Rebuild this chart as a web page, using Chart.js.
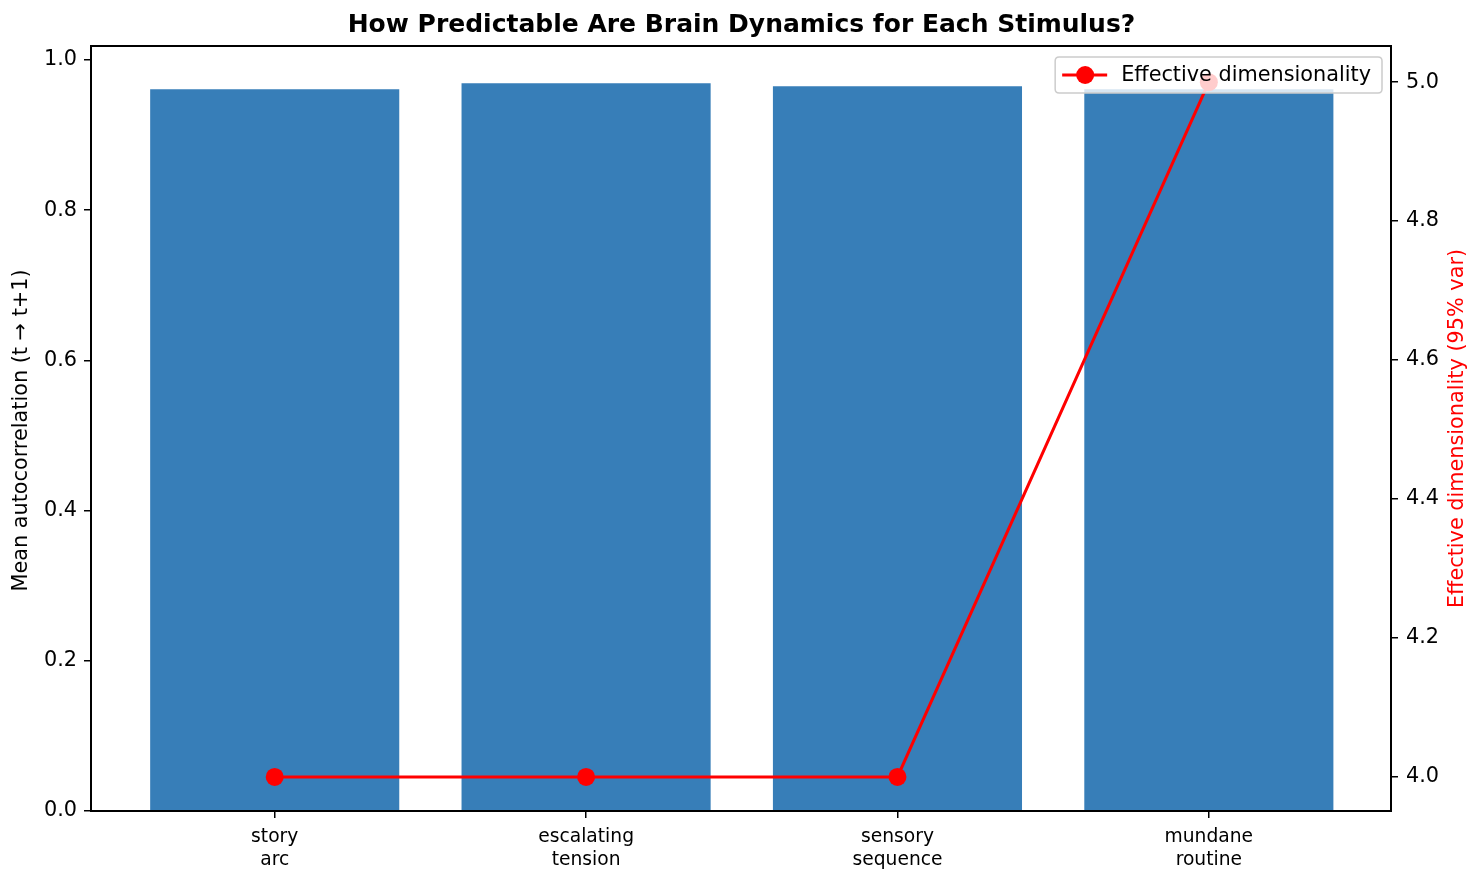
<!DOCTYPE html>
<html>
<head>
<meta charset="utf-8">
<script src="https://cdn.jsdelivr.net/npm/chart.js@4.4.1/dist/chart.umd.min.js"></script>
<style>
  html, body { margin: 0; padding: 0; background: #ffffff; }
  #wrap { width: 1483px; height: 882px; }
</style>
</head>
<body>
<div id="wrap"><canvas id="c" width="1483" height="882"></canvas></div>
<script>
// ---- data ----
const categories = ["story\narc", "escalating\ntension", "sensory\nsequence", "mundane\nroutine"];
const autocorrelation = [0.961, 0.969, 0.965, 0.961];
const dimensionality = [4, 4, 4, 5];
const leftTicks = [0.0, 0.2, 0.4, 0.6, 0.8, 1.0];
const rightTicks = [4.0, 4.2, 4.4, 4.6, 4.8, 5.0];
const titleText = "How Predictable Are Brain Dynamics for Each Stimulus?";
const leftAxisTitle = "Mean autocorrelation (t \u2192 t+1)";
const rightAxisTitle = "Effective dimensionality (95% var)";
const lineLabel = "Effective dimensionality";

const FONT = "'DejaVu Sans', sans-serif";
Chart.defaults.font.family = FONT;
Chart.defaults.color = '#000000';

const frame = {
  id: 'frame',
  afterDatasetsDraw(chart) {
    const a = chart.chartArea, ctx = chart.ctx;
    ctx.save();
    ctx.strokeStyle = '#000';
    ctx.lineWidth = 2;
    ctx.strokeRect(a.left, a.top, a.right - a.left, a.bottom - a.top);
    ctx.restore();
  },
  afterDraw(chart) {
    const a = chart.chartArea, ctx = chart.ctx;
    const cyArea = (a.top + a.bottom) / 2;
    // axis titles (rotated, reading bottom to top)
    ctx.save();
    ctx.font = "20.8px " + FONT;
    ctx.textAlign = 'center';
    ctx.textBaseline = 'middle';
    ctx.translate(22, cyArea + 2);
    ctx.rotate(-Math.PI / 2);
    ctx.fillStyle = '#000';
    ctx.fillText(leftAxisTitle, 0, 0);
    ctx.restore();
    ctx.save();
    ctx.font = "20.8px " + FONT;
    ctx.textAlign = 'center';
    ctx.textBaseline = 'middle';
    ctx.translate(1458, cyArea);
    ctx.rotate(-Math.PI / 2);
    ctx.fillStyle = '#ff0000';
    ctx.fillText(rightAxisTitle, 0, 0);
    ctx.restore();

    // legend, upper right inside the plot
    ctx.save();
    ctx.font = "20.8px " + FONT;
    const tw = ctx.measureText(lineLabel).width;
    const w = tw + 77, h = 36;
    const x = a.right - 9 - w, y = a.top + 11;
    const r = 4;
    ctx.beginPath();
    ctx.moveTo(x + r, y);
    ctx.lineTo(x + w - r, y); ctx.quadraticCurveTo(x + w, y, x + w, y + r);
    ctx.lineTo(x + w, y + h - r); ctx.quadraticCurveTo(x + w, y + h, x + w - r, y + h);
    ctx.lineTo(x + r, y + h); ctx.quadraticCurveTo(x, y + h, x, y + h - r);
    ctx.lineTo(x, y + r); ctx.quadraticCurveTo(x, y, x + r, y);
    ctx.closePath();
    ctx.fillStyle = 'rgba(255,255,255,0.8)';
    ctx.fill();
    ctx.strokeStyle = '#cccccc';
    ctx.lineWidth = 1.5;
    ctx.stroke();
    const cy = y + h / 2;
    ctx.strokeStyle = '#ff0000';
    ctx.lineWidth = 3;
    ctx.beginPath(); ctx.moveTo(x + 7, cy); ctx.lineTo(x + 52, cy); ctx.stroke();
    ctx.fillStyle = '#ff0000';
    ctx.beginPath(); ctx.arc(x + 30, cy, 9, 0, Math.PI * 2); ctx.fill();
    ctx.fillStyle = '#000';
    ctx.textBaseline = 'middle';
    ctx.textAlign = 'left';
    ctx.fillText(lineLabel, x + 66, cy + 1);
    ctx.restore();
  }
};

new Chart(document.getElementById('c'), {
  data: {
    datasets: [
      {
        type: 'line',
        label: lineLabel,
        data: dimensionality.map((v, i) => ({ x: i, y: v })),
        yAxisID: 'y2',
        xAxisID: 'x',
        borderColor: '#ff0000',
        backgroundColor: '#ff0000',
        borderWidth: 3,
        pointRadius: 9,
        pointBorderWidth: 0,
        pointBackgroundColor: '#ff0000',
        tension: 0,
        order: 0
      },
      {
        type: 'bar',
        label: 'Mean autocorrelation',
        data: autocorrelation.map((v, i) => ({ x: i, y: v })),
        yAxisID: 'y',
        xAxisID: 'x',
        backgroundColor: '#377eb8',
        borderWidth: 0,
        categoryPercentage: 0.8,
        barPercentage: 1.0,
        order: 1
      }
    ]
  },
  options: {
    responsive: false,
    animation: false,
    layout: { padding: 0 },
    plugins: {
      legend: { display: false },
      tooltip: { enabled: false },
      title: {
        display: true,
        text: titleText,
        font: { size: 25, weight: 'bold', family: FONT, lineHeight: 1.2 },
        color: '#000',
        padding: { top: 10, bottom: 6 }
      }
    },
    scales: {
      x: {
        type: 'linear',
        position: 'bottom',
        min: -0.59,
        max: 3.585,
        offset: false,
        grid: { display: true, offset: false, drawOnChartArea: false, drawTicks: true, tickLength: 7, color: '#000', lineWidth: 1.5 },
        border: { display: true, color: '#000', width: 2 },
        afterBuildTicks(scale) { scale.ticks = categories.map((c, i) => ({ value: i })); },
        ticks: {
          autoSkip: false,
          maxRotation: 0,
          padding: 8,
          font: { size: 18.7, family: FONT, lineHeight: 1.2 },
          color: '#000',
          callback: (v) => categories[Math.round(v)].split('\n')
        },
        afterFit(scale) { scale.height = 71; }
      },
      y: {
        type: 'linear',
        position: 'left',
        min: 0,
        max: 1.0186,
        grid: { display: true, drawOnChartArea: false, drawTicks: true, tickLength: 7, color: '#000', lineWidth: 1.5 },
        border: { display: true, color: '#000', width: 2 },
        afterBuildTicks(scale) { scale.ticks = leftTicks.map(v => ({ value: v })); },
        ticks: {
          padding: 7,
          font: { size: 20.8, family: FONT },
          color: '#000',
          callback: (v) => Number(v).toFixed(1)
        },
        afterFit(scale) { scale.width = 91; }
      },
      y2: {
        type: 'linear',
        position: 'right',
        min: 3.951,
        max: 5.052,
        grid: { display: true, drawOnChartArea: false, drawTicks: true, tickLength: 7, color: '#000', lineWidth: 1.5 },
        border: { display: true, color: '#000', width: 2 },
        afterBuildTicks(scale) { scale.ticks = rightTicks.map(v => ({ value: v })); },
        ticks: {
          padding: 8,
          font: { size: 20.8, family: FONT },
          color: '#000',
          callback: (v) => Number(v).toFixed(1)
        },
        afterFit(scale) { scale.width = 92; }
      }
    }
  },
  plugins: [frame]
});
</script>
</body>
</html>
